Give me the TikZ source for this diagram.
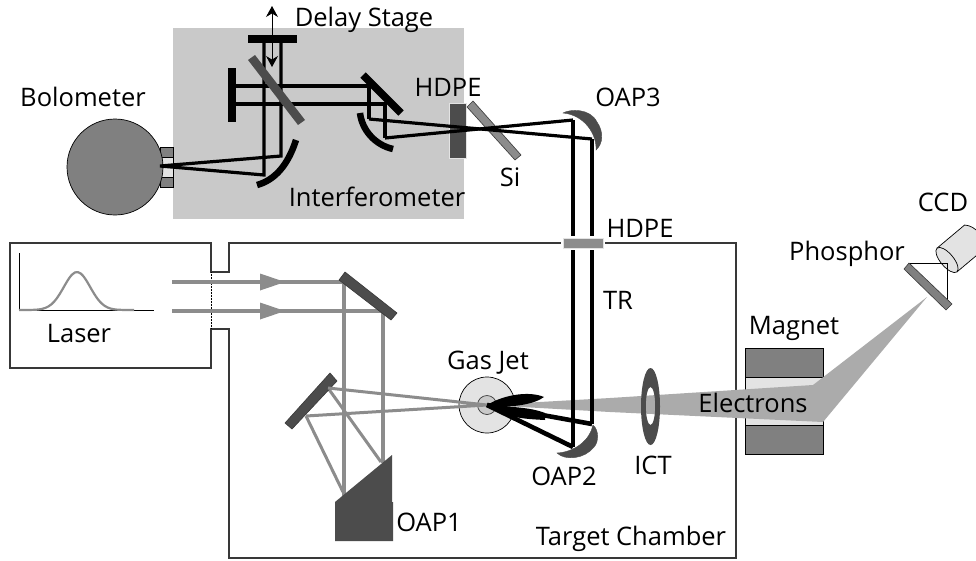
\documentclass[tikz,border=0pt]{standalone}
\usepackage{fontspec}
\setmainfont{Open Sans}
\usetikzlibrary{arrows.meta}
\definecolor{boxgray}{gray}{0.79}
\definecolor{mirrorgray}{gray}{0.30}
\definecolor{beamgray}{gray}{0.55}
\definecolor{elecgray}{gray}{0.67}
\definecolor{wallgray}{gray}{0.22}
\definecolor{bologray}{gray}{0.50}
\definecolor{palegray}{gray}{0.89}
\tikzset{
  lbl/.style={font=\fontsize{25.5}{28}\selectfont, inner sep=0pt, anchor=center},
  wall/.style={line width=1.2pt, draw=wallgray},
  thzbeam/.style={line width=3.2pt, draw=black},
  thzfat/.style={line width=4.6pt, draw=black},
  laserbeam/.style={line width=3pt, draw=beamgray},
  laserfat/.style={line width=4.2pt, draw=beamgray},
  blackbar/.style={line width=7.5pt, draw=black},
  curvedmirror/.style={line width=6.5pt, draw=black},
  graybar/.style={draw=wallgray, line width=0.6pt, fill=mirrorgray},
  crescent/.style={fill=mirrorgray, draw=mirrorgray, line width=0.4pt},
  magnetpart/.style={draw=black, line width=0.7pt, fill=bologray},
}
\begin{document}
\begin{tikzpicture}[x=1pt,y=-1pt]
  \useasboundingbox (0,0) rectangle (976,560);
  \fill[white] (0,0) rectangle (976,560);
  \coordinate (focus) at (487,405);

  % interferometer
  \fill[boxgray] (173,28) rectangle (464,219);
  \draw[thin, fill=bologray] (160,147) rectangle (173,187);
  \draw[thin, fill=palegray] (160,157) rectangle (173,177);
  \draw[line width=0.7pt, fill=bologray] (115,167) circle[radius=48];
  \draw[thzbeam] (264,39) -- (264,175) -- (160,166) -- (281,156) -- (281,39);
  \draw[thzbeam] (232,86) -- (371,86) (232,104) -- (385,104);
  \draw[thzbeam] (369,84) -- (369,119) (385,102) -- (385,138);
  \draw[blackbar] (248,39) -- (297,39);
  \draw[blackbar] (232,68) -- (232,122);
  \draw[blackbar] (363,75) -- (401,113);
  \fill[mirrorgray] (248,60) -- (255,55) -- (305,120) -- (298,125) -- cycle;
  \draw[curvedmirror] (296,140) .. controls (288,165) and (275,180) .. (257,185);
  \draw[curvedmirror] (360,113) .. controls (362,130) and (375,145) .. (393,149);
  \draw[{Stealth[length=11pt,width=12pt]}-{Stealth[length=11pt,width=12pt]}, line width=0.8pt] (272,6) -- (272,67);

  % window and splitter
  \draw[draw=palegray, line width=0.5pt, fill=mirrorgray] (449,103) rectangle (466,158);
  \draw[graybar, fill=beamgray] (473,101) -- (467,107) -- (515,160) -- (521,155) -- cycle;
  \draw[thzbeam] (369,119) -- (592,139);
  \draw[thzbeam] (385,138) -- (573,120);
  \draw[crescent] (563,113) .. controls (570,109) and (590,108) .. (597,122)
    .. controls (604,132) and (603,144) .. (596,150)
    .. controls (597,135) and (585,115) .. (563,113) -- cycle;

  % magnet
  \draw[magnetpart, fill=palegray] (745,377) rectangle (823,426);
  \draw[magnetpart] (745,348) rectangle (823,377);
  \draw[magnetpart] (745,425) rectangle (823,454);

  % chamber
  \draw[wall] (563,243) -- (229,243) -- (229,272) -- (211,272) -- (211,243) -- (10,243)
    -- (10,368) -- (211,368) -- (211,329) -- (229,329) -- (229,558) -- (736,558)
    -- (736,243) -- (603,243);
  \draw[densely dotted, line width=0.5pt] (211,272) -- (211,329);

  % laser
  \draw[line width=0.8pt] (19,253) -- (19,310) -- (154,310);
  \draw[draw=beamgray, line width=2.2pt, line join=round] plot[smooth, samples=40, domain=19:134] (\x, {310-38*exp(-((\x-77)/18.6)^2)});
  \draw[laserfat] (172,282) -- (344,282);
  \draw[laserfat] (172,311) -- (385,311);
  \fill[beamgray] (260,273.5) -- (285,282) -- (260,290.5) -- cycle;
  \fill[beamgray] (260,302.5) -- (285,311) -- (260,319.5) -- cycle;
  \draw[laserfat] (344,280) -- (344,500);
  \draw[laserfat] (383,313) -- (383,463);
  \draw[graybar] (345,272) -- (339,280) -- (391,320) -- (397,313) -- cycle;
  \draw[laserbeam] (343,492) -- (306,416);
  \draw[laserbeam] (381,462) -- (328,388);
  \draw[graybar] (330,373) -- (337,381) -- (292,429) -- (285,423) -- cycle;
  \fill[mirrorgray] (335,502) -- (392,455) -- (392,502) -- (393,502) -- (393,541) -- (335,541) -- cycle;

  % gas jet and electrons
  \draw[line width=0.7pt, fill=palegray] (focus) circle[radius=28];
  \draw[line width=0.7pt, draw=wallgray, fill=boxgray] (focus) circle[radius=9.5];
  \draw[laserbeam] (328,388) -- (focus) -- (306,416);
  \fill[elecgray] (focus) -- (610,398) -- (813,385) -- (927,297) -- (823,422) -- (610,412) -- cycle;
  \fill[mirrorgray, even odd rule] (650.5,406.5) ellipse[x radius=9.5, y radius=38.5]
    (650.5,406) ellipse[x radius=4.7, y radius=19];

  % plasma plume
  \fill (focus) .. controls (505,394) and (530,391) .. (544,397)
    .. controls (535,404) and (510,409) .. (focus) -- cycle;
  \fill (focus) .. controls (510,407) and (530,407) .. (545,413)
    -- (545,420) .. controls (525,419) and (505,418) .. (focus) -- cycle;
  \draw[thzfat] (focus) -- (592,424);
  \draw[thzfat] (focus) -- (573,447);
  \draw[thzfat] (573,120) -- (573,447);
  \draw[thzfat] (592,139) -- (592,424);
  \draw[crescent] (557,453) .. controls (575,452) and (590,440) .. (593,425)
    .. controls (599,430) and (599,442) .. (594,447)
    .. controls (585,459) and (565,461) .. (557,453) -- cycle;
  \fill[white] (561,236) rectangle (605,250);
  \draw[draw=palegray, line width=0.5pt, fill=beamgray] (563,238) rectangle (603,248);

  % phosphor and ccd
  \draw[line width=0.8pt] (909,263) -- (947,263) -- (947,302);
  \draw[draw=wallgray, line width=0.6pt, fill=bologray] (909,263) -- (904,269) -- (946,310) -- (952,304) -- cycle;
  \begin{scope}[shift={(947,260)}, rotate=40]
    \draw[line width=0.7pt, fill=palegray] (0,-15.5) -- (36,-15.5) .. controls (44,-8) and (44,8) .. (36,15.5) -- (0,15.5) -- cycle;
    \draw[line width=0.7pt, fill=palegray] (0,0) ellipse[x radius=6.5, y radius=15.5];
  \end{scope}
  \draw[line width=0.8pt] (937,263) -- (947,263) -- (947,270);

  % labels
  \node[lbl] (delay) at (364,20) {Delay Stage};
  \node[lbl] (bolo) at (83,97) {Bolometer};
  \node[lbl] (hdpeone) at (448,87) {HDPE};
  \node[lbl] (oapthree) at (628,97) {OAP3};
  \node[lbl] (si) at (510,177) {Si};
  \node[lbl] (interf) at (377,197) {Interferometer};
  \node[lbl] (hdpetwo) at (640,228) {HDPE};
  \node[lbl] (ccd) at (943,202) {CCD};
  \node[lbl] (phos) at (847,254) {Phosphor};
  \node[lbl] (tr) at (618,300) {TR};
  \node[lbl] (magnet) at (794,328) {Magnet};
  \node[lbl] (laser) at (79,334) {Laser};
  \node[lbl] (gasjet) at (488,363) {Gas Jet};
  \node[lbl] (electrons) at (753,403) {Electrons};
  \node[lbl] (oaptwo) at (564,476) {OAP2};
  \node[lbl] (ict) at (653,465) {ICT};
  \node[lbl] (oapone) at (429,522) {OAP1};
  \node[lbl] (chamber) at (631,539) {Target Chamber};
\end{tikzpicture}
\end{document}
